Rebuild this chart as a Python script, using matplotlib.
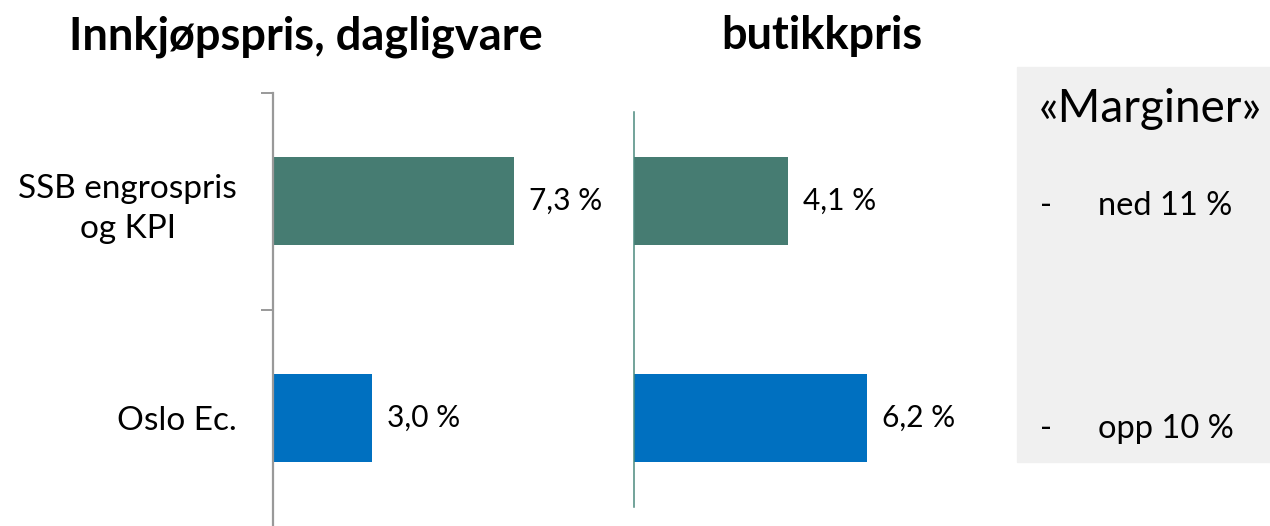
import matplotlib.pyplot as plt

plt.rcParams['font.family'] = ['Lato', 'DejaVu Sans']

# data
categories = ['SSB engrospris\nog KPI', 'Oslo Ec.']
innkjop = [7.3, 3.0]
butikk = [4.1, 6.2]
bar_colors = ['#467C72', '#0070C0']
titles = ['Innkjøpspris, dagligvare', 'butikkpris']
margin_title = '«Marginer»'
margin_notes = ['ned 11 %', 'opp 10 %']

W, H = 1270, 526
fig = plt.figure(figsize=(W / 100, H / 100), dpi=100)

def fmt(v):
    return f'{v:.1f} %'.replace('.', ',')

# gray box on the right
fig.patches.append(plt.Rectangle((1017 / W, 1 - 462 / H), 1 - 1017 / W, (462 - 67) / H,
                                 transform=fig.transFigure, color='#F0F0F0', zorder=0))

ax1 = fig.add_axes([273 / W, 0, 330 / W, 433 / H])
ax2 = fig.add_axes([634 / W, 0, 375 / W, 433 / H])

for ax, vals in [(ax1, innkjop), (ax2, butikk)]:
    ypos = range(len(vals))
    ax.barh(ypos, vals, height=0.405, color=bar_colors, zorder=2)
    ax.set_xlim(0, 10)
    ax.set_ylim(1.5, -0.5)
    for sp in ['top', 'right', 'bottom']:
        ax.spines[sp].set_visible(False)
    ax.set_xticks([])
    ax.patch.set_alpha(0)
    for y, v in zip(ypos, vals):
        ax.annotate(fmt(v), (v, y), xytext=(11, 0), textcoords='offset points',
                    va='center', ha='left', fontsize=21.5)

# left axis: gray spine with ticks at category boundaries
ax1.spines['left'].set_color('#999999')
ax1.spines['left'].set_linewidth(1.6)
ax1.set_yticks([-0.5, 0.5])
ax1.set_yticklabels([])
ax1.tick_params(axis='y', which='major', length=8.5, width=1.4, color='#999999')
ax1.set_yticks([0, 1], categories, minor=True)
ax1.tick_params(axis='y', which='minor', length=0, pad=26, labelsize=24)
for t in ax1.get_yticklabels(minor=True):
    t.set_multialignment('center')
    t.set_linespacing(1.42)

# right axis: thin green spine, no ticks
ax2.spines['left'].set_color('#4B8A7E')
ax2.spines['left'].set_linewidth(1.1)
ax2.spines['left'].set_bounds(-0.41, 1.41)
ax2.set_yticks([])

# titles
fig.text(306 / W, 1 - 49 / H, titles[0], ha='center', va='baseline',
         fontsize=32.5, fontweight='bold')
fig.text(822 / W, 1 - 49 / H, titles[1], ha='center', va='baseline',
         fontsize=32.5, fontweight='bold')

# margin notes
fig.text(1039 / W, 1 - 122 / H, margin_title, ha='left', va='baseline', fontsize=33)
for yb, note in zip([215, 438], margin_notes):
    fig.text(1040 / W, 1 - yb / H, '-', ha='left', va='baseline', fontsize=23.5)
    fig.text(1098 / W, 1 - yb / H, note, ha='left', va='baseline', fontsize=23.5)

fig.savefig('out.png', dpi=100)
